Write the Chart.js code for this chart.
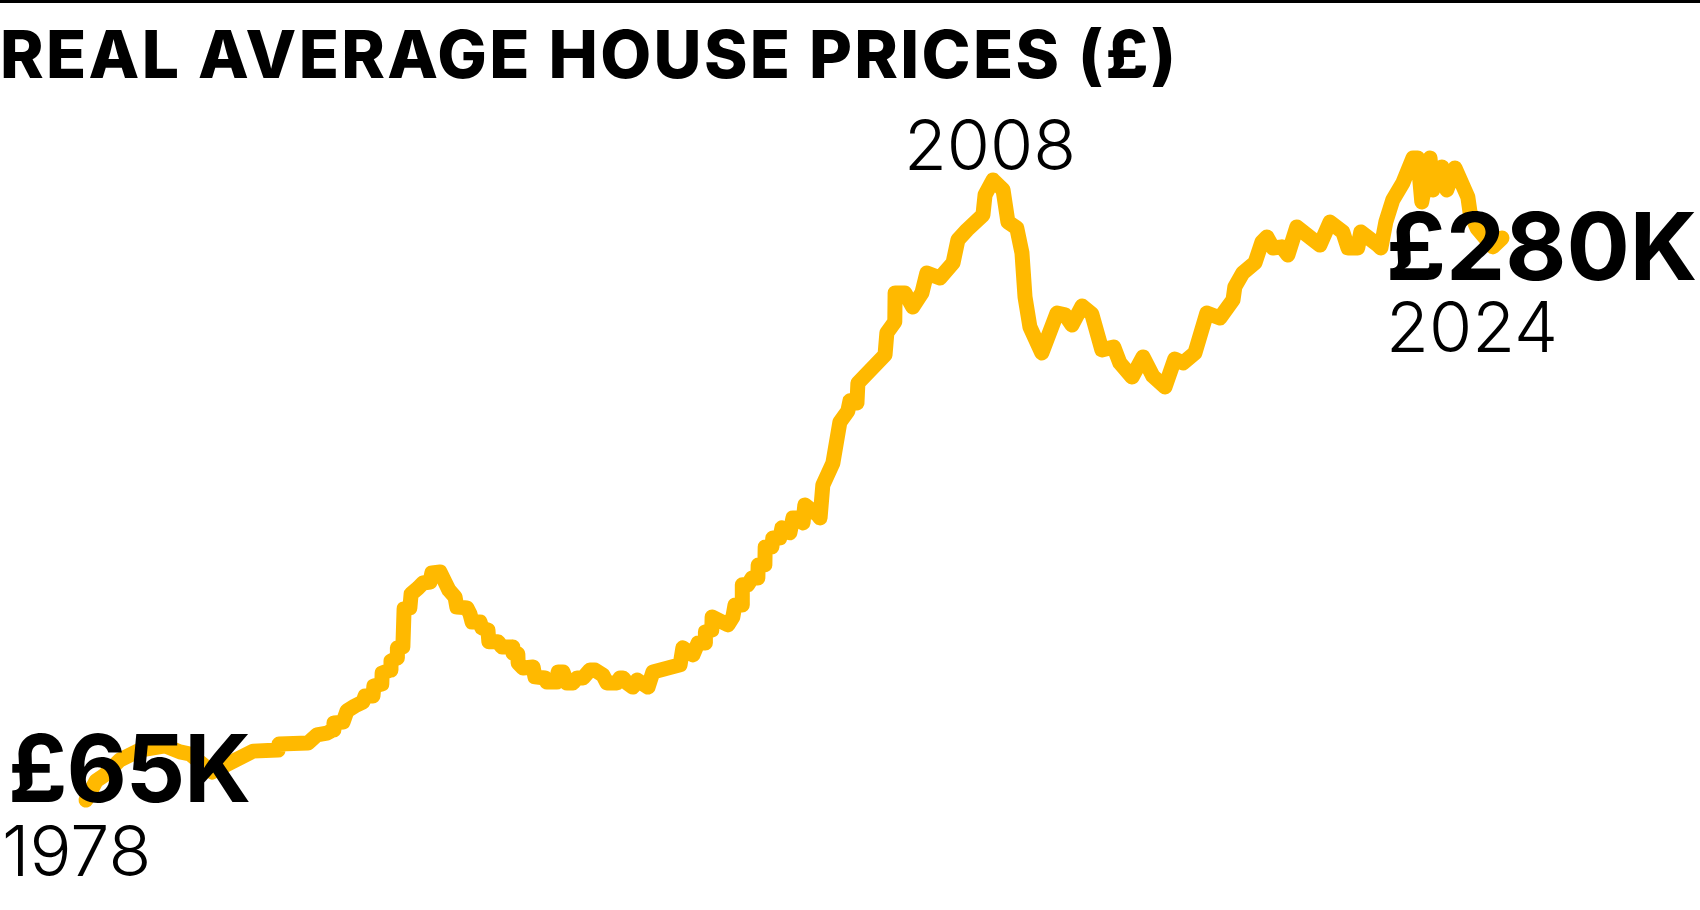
<!DOCTYPE html>
<html>
<head>
<meta charset="utf-8">
<script src="https://cdn.jsdelivr.net/npm/chart.js@4.4.1/dist/chart.umd.min.js"></script>
<style>
  html, body { margin: 0; padding: 0; background: #ffffff; }
  #wrap { width: 1700px; height: 910px; position: relative; }
</style>
</head>
<body>
<div id="wrap"><canvas id="c" width="1700" height="910"></canvas></div>
<script>
// ---- Data ----
const titleText = 'REAL AVERAGE HOUSE PRICES (£)';

// decimal year of each observation
const dates = [
  1978.00, 1978.33, 1978.62, 1979.11, 1979.77, 1980.59, 1981.08, 1981.41, 1982.13, 1983.48,
  1984.30, 1984.33, 1985.28, 1985.57, 1985.90, 1986.10, 1986.13, 1986.43, 1986.56, 1986.82,
  1987.08, 1987.15, 1987.41, 1987.44, 1987.70, 1987.71, 1987.97, 1988.00, 1988.20, 1988.21,
  1988.39, 1988.43, 1988.62, 1988.66, 1988.89, 1989.05, 1989.28, 1989.34, 1989.61, 1989.77,
  1989.90, 1990.10, 1990.16, 1990.49, 1990.59, 1990.66, 1990.92, 1990.98, 1991.18, 1991.21,
  1991.51, 1991.64, 1991.97, 1992.00, 1992.16, 1992.17, 1992.33, 1992.66, 1992.72, 1993.05,
  1993.11, 1993.44, 1993.48, 1993.64, 1993.77, 1993.97, 1994.10, 1994.30, 1994.52, 1994.69,
  1994.95, 1995.08, 1995.41, 1995.51, 1995.61, 1995.74, 1995.93, 1996.07, 1996.43, 1996.59,
  1997.48, 1997.57, 1997.90, 1998.07, 1998.30, 1998.31, 1998.52, 1998.53, 1999.05, 1999.21,
  1999.28, 1999.51, 1999.52, 1999.70, 1999.84, 2000.03, 2000.04, 2000.26, 2000.27, 2000.49,
  2000.52, 2000.75, 2000.82, 2001.08, 2001.18, 2001.41, 2001.51, 2001.57, 2002.00, 2002.07,
  2002.16, 2002.49, 2002.72, 2002.98, 2003.05, 2003.28, 2003.31, 2004.20, 2004.26, 2004.52,
  2004.53, 2004.85, 2005.11, 2005.41, 2005.57, 2006.00, 2006.43, 2006.59, 2006.89, 2007.41,
  2007.48, 2007.74, 2008.07, 2008.23, 2008.52, 2008.69, 2008.79, 2008.95, 2009.34, 2009.84,
  2010.10, 2010.33, 2010.66, 2010.98, 2011.31, 2011.70, 2011.90, 2012.30, 2012.66, 2012.98,
  2013.38, 2013.70, 2013.97, 2014.36, 2014.75, 2015.18, 2015.61, 2015.67, 2015.93, 2016.33,
  2016.56, 2016.72, 2016.92, 2017.21, 2017.41, 2017.70, 2018.46, 2018.79, 2019.21, 2019.38,
  2019.70, 2019.80, 2020.36, 2020.46, 2020.62, 2020.85, 2021.18, 2021.51, 2021.67, 2021.80,
  2022.07, 2022.16, 2022.46, 2022.62, 2022.89, 2023.31, 2023.38, 2023.61, 2024.13, 2024.43
];

// real average house price, £ thousands
const prices = [
   65.0,  72.3,  74.6,  80.3,  84.1,  85.7,  83.4,  82.6,  75.7,  83.7,
   84.1,  86.4,  86.8,  89.9,  90.6,  91.8,  94.5,  94.8,  99.1, 101.0,
  102.5, 104.8, 104.8, 108.6, 109.4, 113.6, 114.7, 118.2, 119.3, 123.2,
  123.5, 138.1, 138.5, 143.8, 146.1, 148.0, 148.4, 151.9, 152.2, 148.4,
  145.3, 142.7, 138.8, 138.5, 136.2, 133.1, 133.1, 130.8, 130.0, 125.5,
  125.5, 123.5, 123.5, 121.2, 120.9, 117.4, 115.5, 115.9, 112.1, 111.7,
  110.1, 110.1, 114.0, 114.0, 109.8, 109.8, 111.7, 111.7, 114.7, 114.7,
  112.8, 109.8, 109.8, 111.7, 111.7, 109.8, 108.2, 110.9, 108.2, 114.0,
  116.7, 123.2, 120.5, 125.1, 125.1, 129.3, 130.0, 135.0, 132.0, 135.0,
  139.6, 139.6, 147.3, 147.3, 149.9, 149.9, 154.9, 154.9, 161.8, 161.8,
  165.2, 165.2, 169.1, 167.2, 172.9, 172.9, 171.0, 177.9, 174.0, 172.9,
  185.5, 193.9, 209.6, 213.8, 217.7, 216.9, 224.5, 235.3, 243.7, 247.9,
  259.0, 259.0, 253.6, 259.0, 266.6, 264.7, 270.5, 279.3, 283.1, 288.8,
  296.5, 302.2, 298.4, 286.1, 283.8, 274.3, 257.4, 246.0, 236.0, 251.3,
  250.6, 246.7, 254.0, 250.9, 237.2, 238.3, 232.2, 226.8, 234.5, 227.2,
  223.0, 233.7, 232.2, 236.0, 251.3, 249.4, 256.3, 261.3, 266.6, 270.5,
  278.5, 280.4, 276.2, 276.6, 273.5, 284.2, 277.3, 286.1, 282.3, 276.2,
  276.2, 282.3, 277.3, 276.2, 286.1, 294.6, 301.1, 310.6, 310.6, 293.8,
  310.6, 298.4, 307.2, 298.4, 306.8, 295.7, 290.0, 283.8, 276.6, 280.0
];

// annotated observations and their year labels
const noteDates = [1978.00, 2007.74, 2024.43];
const noteYears = ['1978', '2008', '2024'];

// ---- Styles ----
const LINE_COLOR = '#FFB900';
const INK = '#000000';
const TITLE_WIDTH = 1176;

function money(v) { return '£' + Math.round(v) + 'K'; }

const annotate = {
  id: 'annotate',
  afterDatasetsDraw(chart) {
    const ctx = chart.ctx;
    const xs = chart.scales.x, ys = chart.scales.y;
    ctx.save();
    ctx.fillStyle = INK;
    // top rule
    ctx.fillRect(0, 0, chart.width, 3);
    // title
    ctx.textBaseline = 'alphabetic';
    ctx.textAlign = 'left';
    ctx.font = '800 66px Inter';
    if ('letterSpacing' in ctx) {
      ctx.letterSpacing = '0px';
      const w = ctx.measureText(titleText).width;
      const sp = (TITLE_WIDTH - w) / (titleText.length - 1);
      ctx.letterSpacing = sp.toFixed(2) + 'px';
    }
    ctx.fillText(titleText, 0, 78);
    if ('letterSpacing' in ctx) ctx.letterSpacing = '0px';

    const idx = noteDates.map(d => dates.indexOf(d));
    // start
    let i = idx[0];
    let px = xs.getPixelForValue(dates[i]), py = ys.getPixelForValue(prices[i]);
    ctx.font = '700 93px Inter';
    if ('letterSpacing' in ctx) ctx.letterSpacing = '-1px';
    ctx.fillText(money(prices[i]), px - 78, py + 2);
    if ('letterSpacing' in ctx) ctx.letterSpacing = '0px';
    ctx.font = '300 70px Inter';
    ctx.fillText(noteYears[0], px - 84, py + 76);
    // peak
    i = idx[1];
    px = xs.getPixelForValue(dates[i]); py = ys.getPixelForValue(prices[i]);
    ctx.textAlign = 'center';
    ctx.fillText(noteYears[1], px - 3, py - 10);
    // end
    i = idx[2];
    px = xs.getPixelForValue(dates[i]); py = ys.getPixelForValue(prices[i]);
    ctx.textAlign = 'left';
    ctx.font = '700 94px Inter';
    ctx.fillText(money(prices[i]), px - 116, py + 42);
    ctx.font = '300 70px Inter';
    ctx.fillText(noteYears[2], px - 116, py + 114);
    ctx.restore();
  }
};

function build() {
  const points = dates.map((d, k) => ({ x: d, y: prices[k] }));
  new Chart(document.getElementById('c'), {
    type: 'line',
    data: {
      datasets: [{
        data: points,
        borderColor: LINE_COLOR,
        borderWidth: 15,
        borderJoinStyle: 'round',
        borderCapStyle: 'round',
        pointRadius: 0,
        pointHoverRadius: 0,
        tension: 0,
        fill: false,
        clip: false
      }]
    },
    options: {
      responsive: false,
      devicePixelRatio: 1,
      animation: false,
      events: [],
      layout: { padding: { left: 86, right: 198, top: 238, bottom: 110 } },
      plugins: { legend: { display: false }, tooltip: { enabled: false }, title: { display: false } },
      scales: {
        x: { type: 'linear', display: false, min: dates[0], max: dates[dates.length - 1] },
        y: { type: 'linear', display: false, min: prices[0], max: prices[prices.length - 1] }
      }
    },
    plugins: [annotate]
  });
}

Promise.all([
  document.fonts.load('800 66px Inter'),
  document.fonts.load('700 94px Inter'),
  document.fonts.load('300 70px Inter')
]).then(build, build);
</script>
</body>
</html>
